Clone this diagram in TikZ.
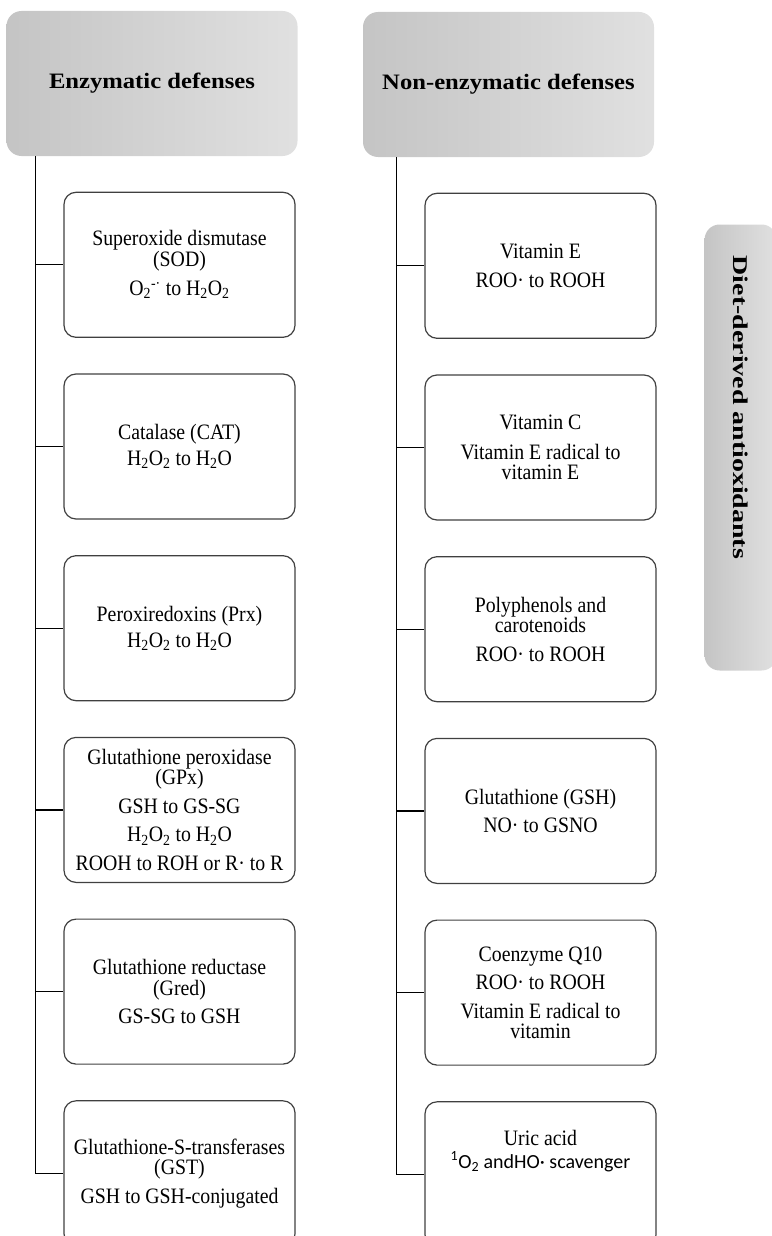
\documentclass[tikz,border=0pt]{standalone}
\usepackage{fontspec}
\setmainfont{Liberation Serif}
\newfontfamily\boxfont[FakeStretch=0.9]{Liberation Serif}
\newfontfamily\headfont[FakeStretch=1.12]{Liberation Serif}
\newfontfamily\dietfont[FakeStretch=1.33]{Liberation Serif}
\newfontfamily\uricfont{Carlito}
\usetikzlibrary{positioning, calc}
\tikzset{
    header/.style={
        rectangle,
        rounded corners=15pt,
        left color=black!23,
        right color=black!12,
        minimum width=291pt,
        minimum height=145pt,
        font=\headfont\bfseries\fontsize{22}{26}\selectfont
    },
    entry/.style={
        rectangle,
        draw=black!75,
        line width=1.2pt,
        rounded corners=12pt,
        minimum width=231pt,
        minimum height=145pt,
        align=center,
        font=\boxfont\fontsize{22}{20.5}\selectfont
    },
    diet/.style={
        rectangle,
        rounded corners=15pt,
        left color=black!23,
        right color=black!12,
        rotate=-90,
        minimum width=446pt,
        minimum height=72pt,
        font=\dietfont\bfseries\fontsize{21}{24}\selectfont
    },
    branch/.style={
        draw=black,
        line width=1.2pt
    }
}

\begin{document}
\begin{tikzpicture}[x=1pt, y=-1pt, node distance=35.5pt]
\useasboundingbox (0,0) rectangle (771,1236);

% Column headers
\node[header] (enz) at (152,83.5) {Enzymatic defenses};
\node[header] (nonenz) at (508.5,84.5) {Non-enzymatic defenses};

% Enzymatic defenses (left column)
\node[entry, below=of enz, xshift=27.5pt] (sod) {Superoxide dismutase\\(SOD)\\[9pt]O\textsubscript{2}\textsuperscript{-·} to H\textsubscript{2}O\textsubscript{2}};
\node[entry, below=of sod] (cat) {Catalase (CAT)\\[5pt]H\textsubscript{2}O\textsubscript{2} to H\textsubscript{2}O};
\node[entry, below=of cat] (prx) {Peroxiredoxins (Prx)\\[5pt]H\textsubscript{2}O\textsubscript{2} to H\textsubscript{2}O};
\node[entry, below=of prx] (gpx) {Glutathione peroxidase\\(GPx)\\[8pt]GSH to GS-SG\\[8pt]H\textsubscript{2}O\textsubscript{2} to H\textsubscript{2}O\\[8pt]ROOH to ROH or R· to R};
\node[entry, below=of gpx] (gred) {Glutathione reductase\\(Gred)\\[8pt]GS-SG to GSH};
\node[entry, below=of gred] (gst) {Glutathione-S-transferases\\(GST)\\[8pt]GSH to GSH-conjugated};

% Non-enzymatic defenses (right column)
\node[entry, below=of nonenz, xshift=32pt] (vite) {Vitamin E\\[8pt]ROO· to ROOH};
\node[entry, below=of vite] (vitc) {Vitamin C\\[9pt]Vitamin E radical to\\vitamin E};
\node[entry, below=of vitc] (poly) {Polyphenols and\\carotenoids\\[8pt]ROO· to ROOH};
\node[entry, below=of poly] (gsh) {Glutathione (GSH)\\[8pt]NO· to GSNO};
\node[entry, below=of gsh] (coq) {Coenzyme Q10\\[8pt]ROO· to ROOH\\[8pt]Vitamin E radical to\\vitamin};
\node[entry, below=of coq, text depth=50pt] (uric) {Uric acid\\[2pt]{\uricfont\fontsize{20}{20.5}\selectfont\textsuperscript{1}O\textsubscript{2} andHO· scavenger}};

% Side label
\node[diet] (dietbox) at ([xshift=84pt]vitc.east) {Diet-derived antioxidants\hspace*{80pt}};

% Trunks and branches
\coordinate (ltrunk) at ([xshift=29pt]enz.south west);
\coordinate (rtrunk) at ([xshift=34pt]nonenz.south west);
\draw[branch] (ltrunk) |- (gst.west);
\draw[branch] (rtrunk) |- (uric.west);
\foreach \n in {sod,cat,prx,gpx,gred}
    \draw[branch] (\n.west -| ltrunk) -- (\n.west);
\foreach \n in {vite,vitc,poly,gsh,coq}
    \draw[branch] (\n.west -| rtrunk) -- (\n.west);

\end{tikzpicture}
\end{document}
